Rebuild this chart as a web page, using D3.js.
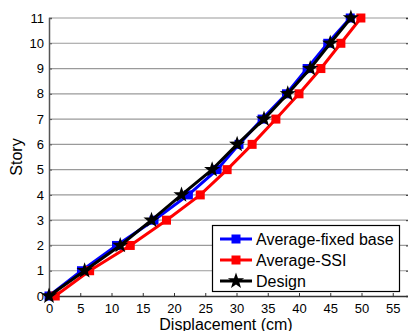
<!DOCTYPE html>
<html><head><meta charset="utf-8">
<script src="https://cdn.jsdelivr.net/npm/d3@7"></script>
<style>body{margin:0;background:#fff}svg{display:block;font-family:"Liberation Sans",Arial,sans-serif}</style>
</head><body><svg id="c" width="408" height="331"></svg>
<script>
const stories = [0,1,2,3,4,5,6,7,8,9,10,11];
const fixedBase = [0,5.2,10.8,16.8,22.3,26.9,30.4,34.1,38.0,41.3,44.6,48.2];
const ssi = [1.0,6.5,13.0,18.8,24.2,28.5,32.5,36.3,40.0,43.5,46.7,49.9];
const design = [0,5.7,11.4,16.4,21.2,26.1,30.1,34.4,38.2,41.8,45.0,48.3];
const xTicks = [0,5,10,15,20,25,30,35,40,45,50,55];
const yTicks = [0,1,2,3,4,5,6,7,8,9,10,11];
const seriesNames = ["Average-fixed base","Average-SSI","Design"];

const svg = d3.select("#c");
const L=49, R=409, T=18, B=296;
const x = d3.scaleLinear().domain([0,57.6]).range([L,R]);
const y = d3.scaleLinear().domain([0,11]).range([B,T]);

// grid
svg.append("g").selectAll("line").data(yTicks.filter(d=>d>0)).join("line")
  .attr("x1",L).attr("x2",R).attr("y1",d=>y(d)).attr("y2",d=>y(d))
  .attr("stroke","#9a9a9a").attr("stroke-width",1.2);

// axes
const xa = svg.append("g").attr("transform",`translate(0,${B})`)
  .call(d3.axisBottom(x).tickValues(xTicks).tickSize(-3).tickPadding(6));
xa.select(".domain").attr("stroke","#333").attr("stroke-width",1.5);
xa.selectAll(".tick line").attr("stroke","#333");
xa.selectAll("text").attr("font-size",13).attr("fill","#000").attr("dy","0.85em");
const ya = svg.append("g").attr("transform",`translate(${L},0)`)
  .call(d3.axisLeft(y).tickValues(yTicks).tickSize(-3).tickPadding(5));
ya.select(".domain").attr("stroke","#555").attr("stroke-width",1.5);
ya.selectAll(".tick line").attr("stroke","#555");
ya.selectAll("text").attr("font-size",13).attr("fill","#000");
const yr = svg.append("g").attr("transform",`translate(${R},0)`)
  .call(d3.axisRight(y).tickValues(yTicks).tickSize(-3).tickFormat(""));
yr.select(".domain").attr("stroke","#333").attr("stroke-width",1.5);
yr.selectAll(".tick line").attr("stroke","#333");

function star(r){
  const pts=[];
  for(let i=0;i<10;i++){
    const rr = i%2===0? r : r*0.4;
    const a = -Math.PI/2 + i*Math.PI/5;
    pts.push([rr*Math.cos(a), rr*Math.sin(a)]);
  }
  return "M"+pts.map(p=>p.join(",")).join("L")+"Z";
}

const line = d3.line().x(d=>x(d[0])).y(d=>y(d[1]));
const series = [
  {vals:fixedBase,color:"#0000ff",m:"sq"},
  {vals:ssi,color:"#ff0000",m:"sq"},
  {vals:design,color:"#000000",m:"star"}
];
series.forEach(s=>{
  const pts = s.vals.map((v,i)=>[v,stories[i]]);
  svg.append("path").attr("d",line(pts)).attr("fill","none")
    .attr("stroke",s.color).attr("stroke-width",3);
  const g = svg.append("g");
  pts.forEach(p=>{
    if(s.m==="sq"){
      g.append("rect").attr("x",x(p[0])-4.5).attr("y",y(p[1])-4.5)
        .attr("width",9).attr("height",9).attr("fill",s.color);
    } else {
      g.append("path").attr("d",star(8.5))
        .attr("transform",`translate(${x(p[0])},${y(p[1])})`).attr("fill","#000");
    }
  });
});

// legend
const lg = svg.append("g");
lg.append("rect").attr("x",212.5).attr("y",225.5).attr("width",187).attr("height",66)
  .attr("fill","#fff").attr("stroke","#000").attr("stroke-width",1.2);
const ly=[239,260,281];
series.forEach((s,i)=>{
  lg.append("line").attr("x1",220).attr("x2",252).attr("y1",ly[i]).attr("y2",ly[i])
    .attr("stroke",s.color).attr("stroke-width",3);
  if(s.m==="sq") lg.append("rect").attr("x",236-4.5).attr("y",ly[i]-4.5).attr("width",9).attr("height",9).attr("fill",s.color);
  else lg.append("path").attr("d",star(8.5)).attr("transform",`translate(236,${ly[i]})`).attr("fill","#000");
  lg.append("text").attr("x",256).attr("y",ly[i]+5.5).attr("font-size",16).text(seriesNames[i]);
});

svg.append("text").attr("x",226).attr("y",329.5).attr("text-anchor","middle")
  .attr("font-size",16).text("Displacement (cm)");
svg.append("text").attr("transform","translate(22,157) rotate(-90)").attr("text-anchor","middle")
  .attr("font-size",16).text("Story");
</script></body></html>
